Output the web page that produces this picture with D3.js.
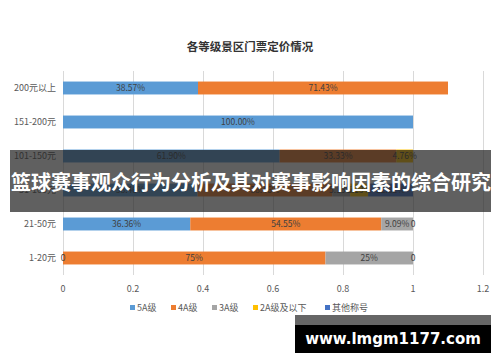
<!DOCTYPE html>
<html>
<head>
<meta charset="utf-8">
<script src="https://cdn.jsdelivr.net/npm/d3@7"></script>
<style>
  body { margin: 0; background: #fff; }
  svg { display: block; font-family: "Microsoft YaHei", "Noto Sans CJK SC", sans-serif; }
  .grid line { stroke: #d9d9d9; }
  .tick-text { fill: #595959; font-size: 9px; }
  .bar-label { fill: #404040; font-size: 8.5px; }
</style>
</head>
<body>
<svg id="chart" width="500" height="362"></svg>
<script>
// price bands, top to bottom
var categories = ["200元以上", "151-200元", "101-150元", "51-100元", "21-50元", "1-20元"];
var seriesNames = ["5A级", "4A级", "3A级", "2A级及以下", "其他称号"];
var seriesColors = ["#5b9bd5", "#ed7d31", "#a5a5a5", "#ffc000", "#4472c4"];

// share per series, one entry per category
var s5A    = [0.3857, 1.0, 0.6190, 0.3846, 0.3636, 0];
var s4A    = [0.7143, 0,   0.3333, 0.3846, 0.5455, 0.75];
var s3A    = [0,      0,   0,      0.0513, 0.0909, 0.25];
var s2A    = [0,      0,   0.0476, 0.0513, 0,      0];
var sOther = [0,      0,   0,      0.1282, 0,      0];

// labels as printed on the bars ("" = none)
var lab5A    = ["38.57%", "100.00%", "61.90%", "38.46%", "36.36%", "0"];
var lab4A    = ["71.43%", "", "33.33%", "38.46%", "54.55%", "75%"];
var lab3A    = ["", "", "", "5.13%", "9.09%", "25%"];
var lab2A    = ["", "", "4.76%", "5.13%", "", ""];
var labOther = ["", "", "", "12.82%", "0", "0"];

var xTicks = [0, 0.2, 0.4, 0.6, 0.8, 1, 1.2];

var svg = d3.select("#chart");
var values = [s5A, s4A, s3A, s2A, sOther];
var labels = [lab5A, lab4A, lab3A, lab2A, labOther];

var x = d3.scaleLinear().domain([0, 1.2]).range([63, 483]);
var y = d3.scaleBand().domain(categories).range([71, 275]).paddingInner(0.62).paddingOuter(0.31);

// title
svg.append("text")
   .attr("x", 250).attr("y", 51)
   .attr("text-anchor", "middle")
   .attr("font-size", 11.5).attr("font-weight", "bold").attr("fill", "#333")
   .text("各等级景区门票定价情况");

// vertical grid
svg.append("g").attr("class", "grid")
   .selectAll("line").data(xTicks).enter().append("line")
   .attr("x1", function(d){ return x(d) + 0.5; })
   .attr("x2", function(d){ return x(d) + 0.5; })
   .attr("y1", 71).attr("y2", 275);

// stacked bars
var rows = categories.map(function(c, i){
   var acc = 0;
   return values.map(function(v, k){
      var seg = {cat: c, k: k, x0: acc, x1: acc + v[i], label: labels[k][i]};
      acc += v[i];
      return seg;
   });
});
var segs = [].concat.apply([], rows);

svg.append("g").selectAll("rect").data(segs.filter(function(d){ return d.x1 > d.x0; }))
   .enter().append("rect")
   .attr("x", function(d){ return x(d.x0); })
   .attr("width", function(d){ return x(d.x1) - x(d.x0); })
   .attr("y", function(d){ return y(d.cat); })
   .attr("height", y.bandwidth())
   .attr("fill", function(d){ return seriesColors[d.k]; });

svg.append("g").selectAll("text").data(segs.filter(function(d){ return d.label !== ""; }))
   .enter().append("text")
   .attr("class", "bar-label")
   .attr("x", function(d){ return x((d.x0 + d.x1) / 2); })
   .attr("y", function(d){ return y(d.cat) + y.bandwidth() / 2 + 3; })
   .attr("text-anchor", "middle")
   .text(function(d){ return d.label; });

// category axis
svg.append("g").selectAll("text").data(categories).enter().append("text")
   .attr("class", "tick-text")
   .attr("x", 56)
   .attr("y", function(d){ return y(d) + y.bandwidth() / 2 + 3; })
   .attr("text-anchor", "end")
   .text(function(d){ return d; });

// value axis
svg.append("g").selectAll("text").data(xTicks).enter().append("text")
   .attr("class", "tick-text")
   .attr("x", function(d){ return x(d); })
   .attr("y", 292)
   .attr("text-anchor", "middle")
   .text(function(d){ return d; });

// legend
var legendX = [130, 171, 212, 253, 325];
var leg = svg.append("g").selectAll("g").data(seriesNames).enter().append("g")
   .attr("transform", function(d, i){ return "translate(" + legendX[i] + ",311)"; });
leg.append("rect").attr("x", 0).attr("y", -6).attr("width", 5).attr("height", 5)
   .attr("fill", function(d, i){ return seriesColors[i]; });
leg.append("text").attr("class", "tick-text").attr("x", 7).attr("y", 0)
   .text(function(d){ return d; });

// overlay banner
svg.append("rect").attr("x", 10).attr("y", 150).attr("width", 481).attr("height", 62)
   .attr("fill", "rgba(35,35,35,0.72)");
svg.append("text")
   .attr("x", 251).attr("y", 190)
   .attr("text-anchor", "middle")
   .attr("font-size", 20).attr("font-weight", "bold").attr("fill", "#fff")
   .text("篮球赛事观众行为分析及其对赛事影响因素的综合研究");

// site stamp
svg.append("rect").attr("x", 295).attr("y", 315).attr("width", 196).attr("height", 10).attr("fill", "#666");
svg.append("rect").attr("x", 295).attr("y", 325).attr("width", 196).attr("height", 28).attr("fill", "#000");
svg.append("text")
   .attr("x", 393).attr("y", 344)
   .attr("text-anchor", "middle")
   .attr("font-family", "DejaVu Sans, sans-serif")
   .attr("font-size", 15).attr("font-weight", "bold").attr("fill", "#fff")
   .text("www.lmgm1177.com");
</script>
</body>
</html>
